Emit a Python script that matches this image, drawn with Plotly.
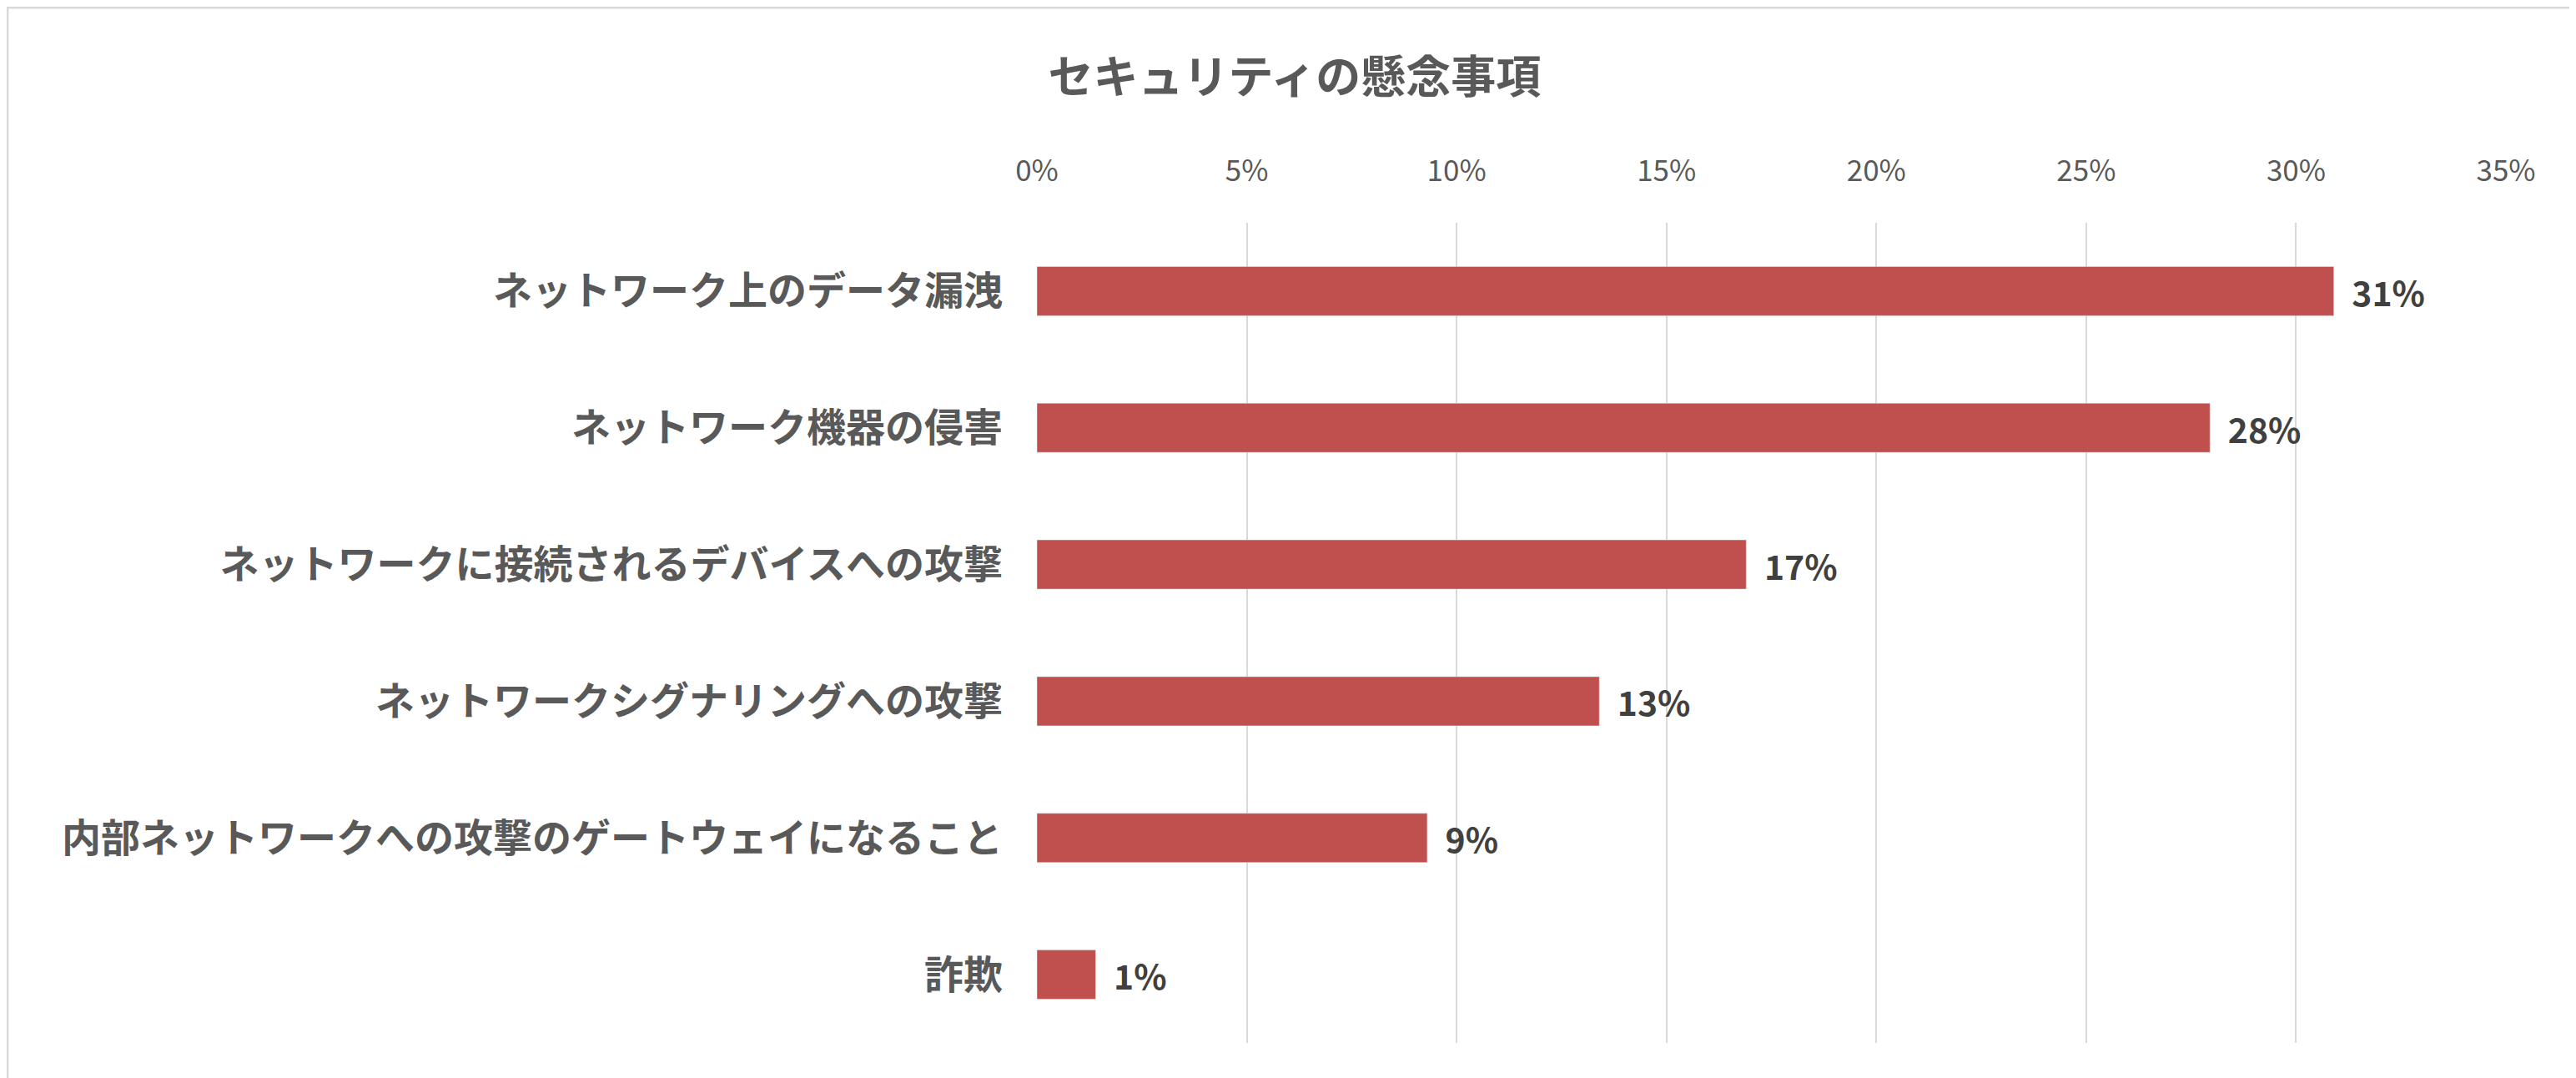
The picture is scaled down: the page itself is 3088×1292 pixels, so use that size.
import plotly.graph_objects as go

categories = ["ネットワーク上のデータ漏洩", "ネットワーク機器の侵害", "ネットワークに接続されるデバイスへの攻撃",
              "ネットワークシグナリングへの攻撃", "内部ネットワークへの攻撃のゲートウェイになること", "詐欺"]
values = [30.9, 27.95, 16.9, 13.4, 9.3, 1.4]
tick_vals = [0, 5, 10, 15, 20, 25, 30, 35]
tick_text = [f"{v}%" for v in tick_vals]

W, H = 3088, 1292
L, R, T, B = 1235, 92, 259, 50
pw, ph = W - L - R, H - T - B
FONT = "Noto Sans CJK JP"

fig = go.Figure(go.Bar(
    x=values, y=categories, orientation="h",
    marker_color="#C0504D", width=0.36,
    text=[f"<b>  {round(v)}%</b>" for v in values], textposition="outside",
    textfont=dict(size=43, color="#404040", family=FONT), cliponaxis=False,
))
fig.update_layout(
    width=W, height=H, margin=dict(l=L, r=R, t=T, b=B),
    paper_bgcolor="white", plot_bgcolor="white", showlegend=False,
    font=dict(family=FONT),
    title=dict(text="<b>セキュリティの懸念事項</b>", x=0.5, xref="container", xanchor="center",
               y=1 - 85 / H, yanchor="middle", font=dict(size=54, color="#595959")),
)
fig.update_xaxes(range=[0, 35], side="top", tickvals=tick_vals, ticktext=tick_text,
                 showgrid=True, gridcolor="#D9D9D9", gridwidth=2, zeroline=False,
                 tickfont=dict(size=35, color="#595959"), ticklabelstandoff=42)
fig.update_yaxes(autorange="reversed", tickfont=dict(size=47, color="#595959"),
                 ticklabelstandoff=40, showline=False,
                 tickvals=categories, ticktext=[f"<b>{c}</b>" for c in categories])
fig.add_shape(type="rect", xref="paper", yref="paper",
              x0=-L / pw + 0.0005, x1=1 + R / pw - 0.0005,
              y0=-B / ph + 0.001, y1=1 + T / ph - 0.001,
              line=dict(color="#D9D9D9", width=3))
fig.write_html("out.html")
